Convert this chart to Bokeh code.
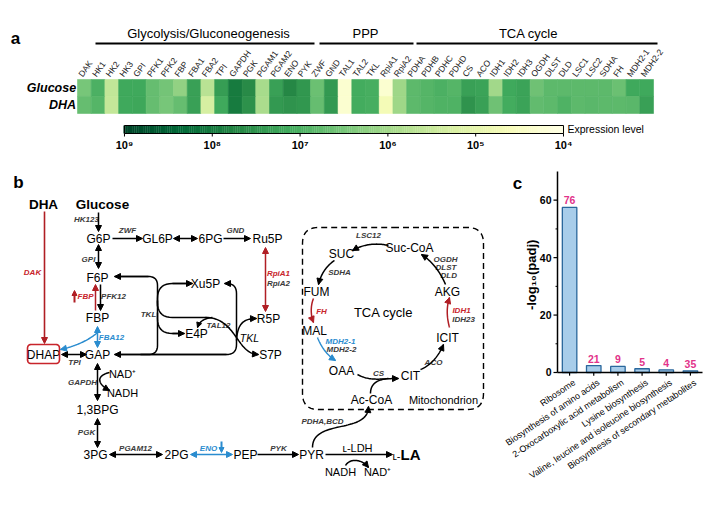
import math
import numpy as np
from bokeh.plotting import figure
from bokeh.layouts import column
from bokeh.models import Range1d, ColumnDataSource, LinearColorMapper, Arrow, NormalHead
from bokeh.transform import transform
from bokeh.core.properties import value
from bokeh.embed import file_html
from bokeh.resources import INLINE

FONT = "Liberation Sans"

# ---------------- data ----------------
genes = ["DAK", "HK1", "HK2", "HK3", "GPI", "PFK1", "PFK2", "FBP", "FBA1", "FBA2", "TPI",
         "GAPDH", "PGK", "PGAM1", "PGAM2", "ENO", "PYK", "ZWF", "GND", "TAL1", "TAL2", "TKL",
         "RpiA1", "RpiA2", "PDHA", "PDHB", "PDHC", "PDHD", "CS", "ACO", "IDH1", "IDH2", "IDH3",
         "OGDH", "DLST", "DLD", "LSC1", "LSC2", "SDHA", "FH", "MDH2-1", "MDH2-2"]
glucose_log = [6.5, 7.0, 5.6, 7.15, 7.15, 6.7, 6.55, 6.2, 7.3, 5.7, 7.35, 7.95, 7.65, 5.95, 7.3, 7.7, 7.45,
               6.65, 7.4, 4.3, 7.1, 7.05, 4.3, 6.05,
               6.8, 6.9, 7.0, 6.9, 7.3, 7.25, 6.0, 7.15, 7.25, 6.6, 6.8, 6.8, 6.8, 6.8, 6.8, 6.65, 7.15, 7.15]
dha_log = [6.7, 6.9, 5.55, 7.15, 7.2, 6.7, 6.5, 6.7, 7.3, 5.3, 7.15, 7.95, 7.55, 5.9, 7.4, 7.5, 7.45,
           6.7, 7.4, 4.3, 7.1, 7.05, 4.7, 6.05,
           6.8, 6.9, 6.95, 6.95, 7.5, 7.3, 6.6, 7.1, 7.25, 6.75, 6.8, 6.95, 6.8, 6.85, 6.8, 6.8, 6.85, 7.3]
conditions = ["Glucose", "DHA"]
cbar_exponents = [9, 8, 7, 6, 5, 4]
cbar_labels = ["10⁹", "10⁸", "10⁷", "10⁶", "10⁵", "10⁴"]

kegg_terms = ["Ribosome", "Biosynthesis of amino acids", "2-Oxocarboxylic acid metabolism",
              "Lysine biosynthesis", "Valine, leucine and isoleucine biosynthesis",
              "Biosynthesis of secondary metabolites"]
neg_log_padj = [57.5, 2.4, 2.1, 1.3, 0.9, 0.6]
gene_counts = [76, 21, 9, 5, 4, 35]
y_ticks = [0, 20, 40, 60]
y_minor = [10, 30, 50]

# ---------------- styles ----------------
YLGN9 = ['#ffffe5', '#f7fcb9', '#d9f0a3', '#addd8e', '#78c679', '#41ab5d', '#238443', '#006837', '#004529']


def interp_pal(cols, n):
    rgb = np.array([[int(c[i:i + 2], 16) for i in (1, 3, 5)] for c in cols], float)
    pos = np.linspace(0, 1, len(cols))
    out = []
    for t in np.linspace(0, 1, n):
        r = [np.interp(t, pos, rgb[:, k]) for k in range(3)]
        out.append("#%02x%02x%02x" % tuple(int(round(v)) for v in r))
    return out


PAL = interp_pal(YLGN9, 256)
mapper = LinearColorMapper(palette=PAL, low=4, high=9)

RED = "#c8242b"
DRED = "#b01e24"
BLUE = "#2a8ccf"
GREY = "#3a3a3a"


def txt(p, x, y, s, size=12, color="black", style="normal", align="center", baseline="middle",
        angle=0.0, **kw):
    p.text(x=[x], y=[y], text=[s], text_font=value(FONT), text_font_size=f"{size}px",
           text_color=color, text_font_style=style, text_align=align, text_baseline=baseline,
           angle=angle, **kw)


def head(color, size=6):
    return NormalHead(size=size, fill_color=color, line_color=color, line_width=1)


def arr(p, x0, y0, x1, y1, color="black", lw=1.5, start=False, end=True, size=6):
    p.add_layout(Arrow(x_start=x0, y_start=y0, x_end=x1, y_end=y1, line_color=color,
                       line_width=lw, start=head(color, size) if start else None,
                       end=head(color, size) if end else None))


def bez(p, P0, P1, P2, P3, color="black", lw=1.5, end=True, start=False, size=6):
    t = np.linspace(0, 1, 40)
    xs = (1 - t) ** 3 * P0[0] + 3 * (1 - t) ** 2 * t * P1[0] + 3 * (1 - t) * t ** 2 * P2[0] + t ** 3 * P3[0]
    ys = (1 - t) ** 3 * P0[1] + 3 * (1 - t) ** 2 * t * P1[1] + 3 * (1 - t) * t ** 2 * P2[1] + t ** 3 * P3[1]
    p.line(xs, ys, line_color=color, line_width=lw)
    if end:
        arr(p, xs[-3], ys[-3], xs[-1], ys[-1], color, lw, end=True, size=size)
    if start:
        arr(p, xs[2], ys[2], xs[0], ys[0], color, lw, end=True, size=size)


def rpath(pts, r=9, n=10):
    out = [np.array(pts[0], float)]
    for i in range(1, len(pts) - 1):
        a0, a1, a2 = (np.array(q, float) for q in pts[i - 1:i + 2])
        d1 = (a1 - a0) / np.linalg.norm(a1 - a0)
        d2 = (a2 - a1) / np.linalg.norm(a2 - a1)
        a = a1 - d1 * r
        b = a1 + d2 * r
        for t in np.linspace(0, 1, n):
            out.append((1 - t) ** 2 * a + 2 * (1 - t) * t * a1 + t ** 2 * b)
    out.append(np.array(pts[-1], float))
    out = np.array(out)
    return out[:, 0], out[:, 1]


def path(p, pts, r=9, color="black", lw=1.5, end=False, start=False, size=6):
    xs, ys = rpath(pts, r)
    p.line(xs, ys, line_color=color, line_width=lw)
    if end:
        arr(p, xs[-2], ys[-2], xs[-1], ys[-1], color, lw, size=size)
    if start:
        arr(p, xs[1], ys[1], xs[0], ys[0], color, lw, size=size)


def rrect(x0, y0, x1, y1, r):
    pts = [((x0 + x1) / 2, y0), (x1, y0), (x1, y1), (x0, y1), (x0, y0), ((x0 + x1) / 2 + 0.01, y0)]
    return rpath(pts, r, 12)


def canvas(w, h, x0, x1, y0, y1):
    p = figure(width=w, height=h, x_range=Range1d(x0, x1), y_range=Range1d(y1, y0),
               x_axis_location=None, y_axis_location=None, output_backend="svg",
               toolbar_location=None, min_border=0)
    p.grid.visible = False
    p.outline_line_color = None
    p.background_fill_color = "white"
    return p


# ---------------- panel a : heatmap ----------------
pA = canvas(722, 160, 0, 722, 0, 160)
pA.extra_x_ranges = {"gene": Range1d(-6.115, 46.53), "cb": Range1d(10.412, 2.189)}
pA.extra_y_ranges = {"row": Range1d(-3.265, 6.147)}

n = len(genes)
hm = ColumnDataSource(dict(
    i=list(range(n)) * 2,
    r=[1] * n + [0] * n,
    v=glucose_log + dha_log,
))
pA.rect(x="i", y="r", width=1, height=1, source=hm, fill_color=transform("v", mapper),
        line_color=transform("v", mapper), line_width=0.6, x_range_name="gene", y_range_name="row")

pA.text(x=[i - 0.3 for i in range(n)], y=[1.72] * n, text=genes, angle=math.radians(54),
        x_range_name="gene", y_range_name="row", text_font=value(FONT), text_font_size="8.5px",
        text_color="#222222", text_align="left", text_baseline="middle")
pA.text(x=[-0.6, -0.6], y=[1, 0], text=conditions, x_range_name="gene", y_range_name="row",
        text_font=value(FONT), text_font_size="12.5px", text_font_style="bold italic",
        text_align="right", text_baseline="middle")

txt(pA, 15, 38, "a", size=17, style="bold")
txt(pA, 208, 33, "Glycolysis/Gluconeogenesis", size=13)
txt(pA, 365, 33, "PPP", size=13)
txt(pA, 528, 33, "TCA cycle", size=13)
pA.segment(x0=[95, 319, 416], y0=[43] * 3, x1=[314, 413, 657], y1=[43] * 3, line_color="black", line_width=2.2)

# colour bar (drawn through the same mapper)
ev = np.linspace(4, 9, 240)
cbs = ColumnDataSource(dict(e=ev))
pA.rect(x="e", y=129, width=5 / 240 * 1.15, height=8, source=cbs, fill_color=transform("e", mapper),
        line_color=None, x_range_name="cb")
pA.rect(x=[6.5], y=[129], width=5, height=8, fill_color=None, line_color="black", line_width=1,
        x_range_name="cb")
pA.segment(x0=cbar_exponents, y0=[133] * 6, x1=cbar_exponents, y1=[136] * 6, line_color="black",
           line_width=1, x_range_name="cb")
pA.text(x=cbar_exponents, y=[144] * 6, text=cbar_labels, x_range_name="cb", text_font=value(FONT),
        text_font_size="11px", text_font_style="bold", text_align="center", text_baseline="middle")
txt(pA, 567, 128, "Expression level", size=10.5, align="left")

# ---------------- panel b : pathway (and panel c) ----------------
pB = canvas(722, 344, 0, 722, 160, 504)
txt(pB, 18, 182, "b", size=17, style="bold")
txt(pB, 43, 204, "DHA", size=13.5, style="bold")
txt(pB, 102, 204, "Glucose", size=13.5, style="bold")

mets = {"G6P": (98, 238), "GL6P": (157, 238), "6PG": (210, 238), "Ru5P": (267, 238),
        "F6P": (97, 277), "FBP": (97, 317), "Xu5P": (205, 283), "R5P": (268, 318),
        "E4P": (196, 333), "S7P": (270, 354), "GAP": (97, 354), "1,3BPG": (97, 409),
        "3PG": (95, 454), "2PG": (176, 454), "PEP": (245, 454), "PYR": (311, 454),
        "Suc-CoA": (409, 247), "SUC": (341, 253), "FUM": (316, 291), "MAL": (314, 330),
        "OAA": (341, 370), "CIT": (410, 375), "ICIT": (447, 337), "AKG": (447, 291),
        "Ac-CoA": (371, 399)}
for k, (x, y) in mets.items():
    txt(pB, x, y, k, size=12)
txt(pB, 43, 354, "DHAP", size=12)
bx, by = rrect(27, 344, 59, 363, 4)
pB.line(bx, by, line_color=RED, line_width=1.6)
txt(pB, 122, 373, "NAD⁺", size=11)
txt(pB, 122, 392, "NADH", size=11)
txt(pB, 340, 471, "NADH", size=11)
txt(pB, 377, 471, "NAD⁺", size=11)
txt(pB, 357, 447, "ʟ-LDH", size=11)
txt(pB, 400, 455, "ʟ-", size=11, align="right")
txt(pB, 400, 454, "LA", size=15, style="bold", align="left")
txt(pB, 383, 312, "TCA cycle", size=13)
txt(pB, 443, 399, "Mitochondrion", size=11)

tx, ty = rrect(302, 227, 483, 409, 16)
pB.line(tx, ty, line_color="black", line_width=1.4, line_dash="6 4")

enz = [("HK123", 86, 219, GREY), ("ZWF", 127, 230, GREY), ("GND", 235, 230, GREY),
       ("GPI", 88, 259, GREY), ("PFK12", 113, 296, GREY), ("FBP", 85, 296, RED),
       ("DAK", 32, 272, RED), ("RpiA1", 278, 273, RED), ("RpiA2", 278, 283, GREY),
       ("TKL", 148, 314, GREY), ("TAL12", 218, 325, GREY), ("FBA12", 111, 337, BLUE),
       ("TPI", 74, 362, GREY), ("GAPDH", 82, 382, GREY), ("PGK", 86, 432, GREY),
       ("PGAM12", 135, 448, GREY), ("ENO", 208, 448, BLUE), ("PYK", 278, 448, GREY),
       ("PDHA,BCD", 322, 421, GREY), ("LSC12", 368, 235, GREY), ("SDHA", 339, 272, GREY),
       ("FH", 321, 311, RED), ("MDH2-1", 340, 341, BLUE), ("MDH2-2", 341, 349, GREY),
       ("CS", 378, 373, GREY), ("ACO", 433, 362, GREY), ("IDH1", 461, 310, RED),
       ("IDH23", 463, 319, GREY)]
for s, x, y, c in enz:
    txt(pB, x, y, s, size=8, color=c, style="bold italic")
for s, x, y in [("OGDH", 433, 259), ("DLST", 435, 267), ("DLD", 440, 275)]:
    txt(pB, x, y, s, size=8, color=GREY, style="bold italic", align="left")
txt(pB, 249, 337, "TKL", size=10.5, style="italic")

# straight arrows
arr(pB, 44, 211, 44, 343, DRED, lw=1.6)
arr(pB, 98, 212, 98, 231)
arr(pB, 112, 238, 142, 238)
arr(pB, 173, 238, 197, 238, start=True)
arr(pB, 223, 238, 250, 238)
arr(pB, 265, 247, 265, 311, DRED, start=True)
arr(pB, 98, 244, 98, 268, start=True)
arr(pB, 100, 284, 100, 310)
arr(pB, 95, 310, 95, 284, DRED)
arr(pB, 74, 302, 74, 290, DRED, lw=2, size=5)
arr(pB, 97, 326, 97, 347, BLUE, start=True)
arr(pB, 61, 354, 86, 354, start=True)
arr(pB, 97, 363, 97, 400, start=True)
arr(pB, 97, 418, 97, 447, start=True)
arr(pB, 109, 454, 162, 454, start=True)
arr(pB, 190, 454, 232, 454, BLUE, start=True)
arr(pB, 221, 441, 221, 452, BLUE, lw=2, size=5)
arr(pB, 257, 454, 298, 454)
arr(pB, 325, 454, 392, 454)

# curved arrows
bez(pB, (97, 332), (88, 340), (74, 346), (60, 349), BLUE)
bez(pB, (109, 372), (96, 375), (96, 383), (109, 390))
bez(pB, (345, 465), (350, 457), (362, 459), (368, 467))
bez(pB, (312, 447), (312, 418), (368, 434), (368, 406))
bez(pB, (357, 374), (370, 381), (380, 378), (398, 378))
bez(pB, (370, 393), (370, 383), (377, 379), (388, 378), end=False)
bez(pB, (420, 369), (430, 365), (438, 356), (443, 344))
bez(pB, (449, 327), (446, 316), (446, 306), (449, 297), DRED)
bez(pB, (445, 284), (440, 272), (432, 261), (421, 254))
bez(pB, (388, 245), (375, 242), (362, 244), (352, 250))
bez(pB, (334, 260), (325, 266), (320, 275), (318, 284))
bez(pB, (313, 298), (310, 305), (310, 315), (313, 322), DRED)
bez(pB, (317, 337), (321, 347), (327, 355), (335, 360), BLUE)

# non-oxidative PPP (TKL / TAL)
path(pB, [(224, 283), (236, 283), (236, 354), (114, 354)], r=10, start=True, end=True)
path(pB, [(114, 276), (157, 276), (157, 354), (140, 354)], r=9, start=True)
path(pB, [(157, 306), (157, 283), (192, 283)], r=15, end=True)
path(pB, [(157, 312), (157, 333), (184, 333)], r=15, end=True)
path(pB, [(157, 300), (157, 317), (206, 317)], r=15)
bez(pB, (205, 317), (236, 317), (236, 354), (258, 354))
bez(pB, (236, 340), (237, 323), (243, 318), (256, 318))
bez(pB, (212, 317), (203, 318), (199, 321), (197, 327), size=5)

# ---------------- panel c : bar chart (own scales inside the same canvas) ----------------
pB.extra_x_ranges = {"term": Range1d(-23.545, 6.327)}
pB.extra_y_ranges = {"padj": Range1d(-45.97, 73.83)}
idx = list(range(len(kegg_terms)))
bars = ColumnDataSource(dict(i=idx, v=neg_log_padj, c=[str(c) for c in gene_counts], t=kegg_terms))
pB.vbar(x="i", top="v", bottom=0, width=0.6, source=bars, fill_color="#a8cdea", line_color="#2a679c",
        line_width=1.3, x_range_name="term", y_range_name="padj")
pB.text(x="i", y="v", text="c", source=bars, x_range_name="term", y_range_name="padj",
        text_font=value(FONT), text_font_size="10.5px", text_font_style="bold", text_color="#e2338a",
        text_align="center", text_baseline="bottom", y_offset=-3)
# y axis
pB.segment(x0=[557], y0=[0], x1=[557], y1=[70], y_range_name="padj", line_color="black", line_width=1.5)
pB.segment(x0=[553] * 4, y0=y_ticks, x1=[557] * 4, y1=y_ticks, y_range_name="padj",
           line_color="black", line_width=1.2)
pB.segment(x0=[555] * 3, y0=y_minor, x1=[557] * 3, y1=y_minor, y_range_name="padj",
           line_color="black", line_width=1)
pB.text(x=[551] * 4, y=y_ticks, text=[str(t) for t in y_ticks], y_range_name="padj",
        text_font=value(FONT), text_font_size="10.5px", text_font_style="bold",
        text_align="right", text_baseline="middle")
pB.text(x=[531], y=[34], text=["-log₁₀(padj)"], y_range_name="padj", angle=math.pi / 2,
        text_font=value(FONT), text_font_size="13px", text_font_style="bold",
        text_align="center", text_baseline="middle")
# x axis
pB.segment(x0=[-0.5], y0=[0], x1=[5.5], y1=[0], x_range_name="term", y_range_name="padj",
           line_color="black", line_width=1.5)
pB.segment(x0="i", y0=0, x1="i", y1=-1.1, source=bars, x_range_name="term", y_range_name="padj",
           line_color="black", line_width=1.2)
pB.text(x="i", y=381, text="t", source=bars, x_range_name="term", angle=math.radians(34),
        text_font=value(FONT), text_font_size="9px", text_align="right", text_baseline="middle",
        x_offset=5)
txt(pB, 517, 183, "c", size=17, style="bold")

layout = column(pA, pB, spacing=0)
open("out.html", "w").write(file_html(layout, INLINE))
